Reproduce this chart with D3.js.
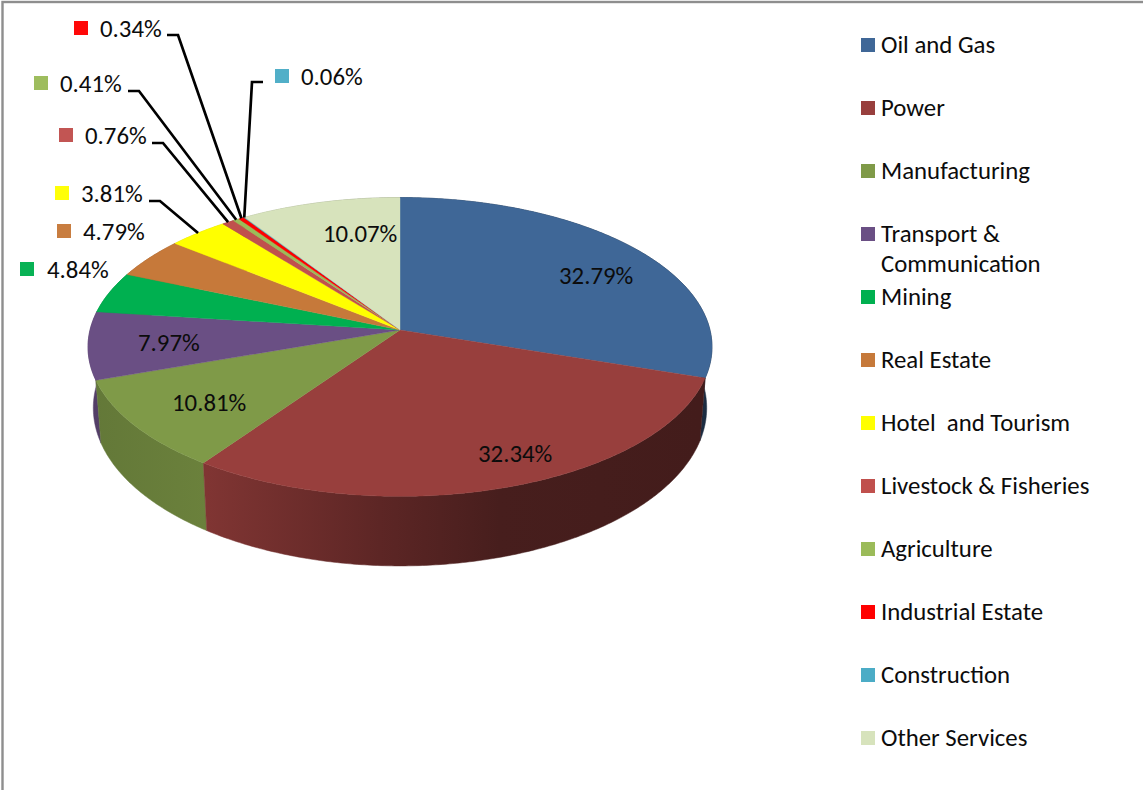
<!DOCTYPE html>
<html>
<head>
<meta charset="utf-8">
<script src="https://cdn.jsdelivr.net/npm/d3@7/dist/d3.min.js"></script>
<style>
html,body{margin:0;padding:0;background:#fff;overflow:hidden}
svg{display:block}
text{font-family:Carlito,Lato,"Open Sans",sans-serif;fill:#0c0c0c}
</style>
</head>
<body>
<svg id="c" width="1143" height="790"></svg>
<script>
// ---- data ----
const categories = ["Oil and Gas","Power","Manufacturing","Transport & Communication","Mining","Real Estate","Hotel  and Tourism","Livestock & Fisheries","Agriculture","Industrial Estate","Construction","Other Services"];
const values = [32.79,32.34,10.81,7.97,4.84,4.79,3.81,0.76,0.41,0.34,0.06,10.07];
const colors = ["#3f6797","#983f3d","#7f9a48","#6a4f84","#00b050","#c6793a","#ffff00","#c0504d","#9bbb59","#ff0000","#4bacc6","#d7e3bc"];
// ---- layout (not data) ----
const labelPos = [[559,276],[478,454],[172,403],[138,343],[47,270],[83,232],[81,194],[85,136],[60,84],[100,29],[301,77],[323,234]];
const keyGap = [26,26,26,26,27,26,26,26,26,26,26,28];
const elbows = {6:[[149,201],[160,201]],7:[[152,143],[163,143]],8:[[128,91],[139,91]],9:[[167,35],[178,35]],10:[[263,82],[252,82]]};
const fontSize = 24.8;

const svg = d3.select("#c");
const hub = {x:400,y:330}, A = 310, B = 147.5, P = 0.1133;
const project = (t,a,b,dy) => {
  const u = Math.sin(t), v = -Math.cos(t), k = 1 - P*v;
  return [hub.x + a*u/k, hub.y + dy + b*v/k];
};
const rimTop = t => project(t,A,B,0);
const rimBot = t => project(t,A*0.983,156,60);
const line = d3.line();
const arcs = d3.pie().sort(null).value(d=>d)(values);
const samples = (a0,a1) => { const n = Math.max(2,Math.ceil((a1-a0)/0.01)); return d3.range(n+1).map(i=>a0+(a1-a0)*i/n); };

// frame
svg.append("rect").attr("x",2.5).attr("y",2).attr("width",1160).attr("height",840).attr("fill","#fff").attr("stroke","#8e8e8e").attr("stroke-width",2.4);

// side-wall shading
const defs = svg.append("defs");
const shade = d3.scaleLinear().domain([90,207,380,500,700]).range([0.78,0.84,0.61,0.47,0.44]);
arcs.forEach((d,i)=>{
  const g = defs.append("linearGradient").attr("id","w"+i).attr("gradientUnits","userSpaceOnUse")
    .attr("x1",90).attr("x2",715).attr("y1",0).attr("y2",0);
  shade.domain().forEach(x=>{
    const c = d3.rgb(colors[i]), f = shade(x);
    g.append("stop").attr("offset",(x-90)/625).attr("stop-color",d3.rgb(c.r*f,c.g*f,c.b*f).formatHex());
  });
});

// walls (back to front)
const order = arcs.map((d,i)=>i).sort((a,b)=>-Math.cos((arcs[a].startAngle+arcs[a].endAngle)/2)+Math.cos((arcs[b].startAngle+arcs[b].endAngle)/2));
const wallG = svg.append("g");
order.forEach(i=>{
  const s = samples(arcs[i].startAngle,arcs[i].endAngle);
  wallG.append("path").attr("d",line(s.map(rimTop).concat(s.slice().reverse().map(rimBot)))+"Z")
    .attr("fill",`url(#w${i})`).attr("stroke",`url(#w${i})`).attr("stroke-width",0.5);
});

// top faces
svg.append("g").selectAll("path").data(arcs).join("path")
  .attr("d",d=>line([[hub.x,hub.y]].concat(samples(d.startAngle,d.endAngle).map(rimTop)))+"Z")
  .attr("fill",(d,i)=>colors[i]).attr("stroke",(d,i)=>colors[i]).attr("stroke-width",0.4);

// leader lines
Object.keys(elbows).forEach(k=>{
  const a = arcs[+k], pts = elbows[k].concat([rimTop((a.startAngle+a.endAngle)/2)]);
  svg.append("path").attr("d",line(pts)).attr("fill","none").attr("stroke","#000").attr("stroke-width",2.7);
});

// data labels
const fmt = d3.format(".2f");
const lab = svg.append("g").selectAll("g").data(values).join("g");
lab.append("rect").attr("x",(d,i)=>labelPos[i][0]-keyGap[i]).attr("y",(d,i)=>labelPos[i][1]-8)
  .attr("width",14).attr("height",14).attr("fill",(d,i)=>colors[i]).attr("opacity",0.97);
lab.append("text").attr("x",(d,i)=>labelPos[i][0]).attr("y",(d,i)=>labelPos[i][1]).attr("dy","0.33em")
  .attr("font-size",fontSize).text(d=>fmt(d)+"%");

// legend
const legY = d3.scaleLinear().domain([0,11]).range([45,738]);
const leg = svg.append("g").selectAll("g").data(categories).join("g").attr("transform",(d,i)=>`translate(861,${legY(i)})`);
leg.append("rect").attr("x",0).attr("y",-7).attr("width",14).attr("height",14).attr("fill",(d,i)=>colors[i]);
leg.each(function(d){
  const g = d3.select(this), two = d.startsWith("Transport");
  const lines = two ? ["Transport &","Communication"] : [d];
  lines.forEach((t,j)=>g.append("text").attr("x",20).attr("y",j*30).attr("dy","0.33em").attr("font-size",fontSize).style("white-space","pre").text(t));
});
</script>
</body>
</html>
